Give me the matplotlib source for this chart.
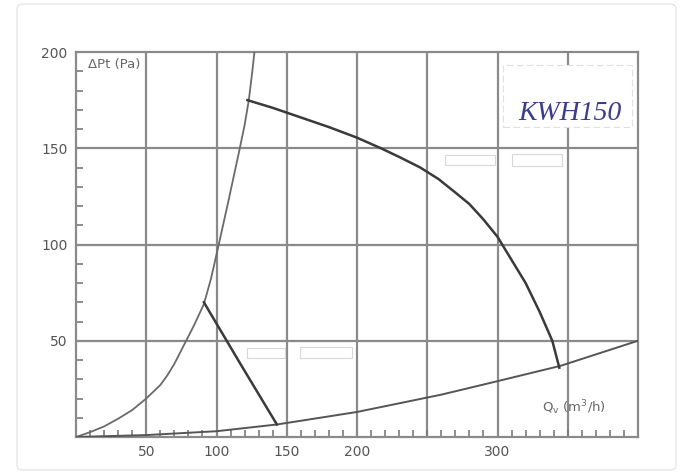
import matplotlib
matplotlib.use("Agg")
import matplotlib.pyplot as plt
from matplotlib.patches import Rectangle, FancyBboxPatch

# ---- data ----
fan_q = [122, 140, 160, 180, 200, 217, 230, 245, 258, 270, 280, 290, 300, 310, 320, 330, 339, 344]
fan_p = [175, 171, 166, 161, 155.5, 150, 145.5, 140, 134, 127, 121, 113, 104, 92, 80, 65, 50, 36]

low_q = [91, 117, 143]
low_p = [70, 38, 6.5]

sys_hi_q = [0, 10, 20, 30, 40, 50, 60, 65, 70, 77, 84, 91, 96, 101, 108, 116, 120, 123, 125.5, 127]
sys_hi_p = [0, 2.5, 5.5, 9.5, 14, 20, 27, 32, 38, 48, 58, 69, 82, 98, 121, 148, 162, 175, 190, 200]

sys_lo_q = [0, 50, 100, 143, 200, 260, 300, 345, 400]
sys_lo_p = [0, 1, 3, 6.5, 13, 22, 29, 37, 50]

x_ticks = [50, 100, 150, 200, 300]
x_ticklabels = ["50", "100", "150", "200", "300"]
y_ticks = [50, 100, 150, 200]
y_ticklabels = ["50", "100", "150", "200"]
x_grid = [50, 100, 150, 200, 250, 300, 350]
y_grid = [50, 100, 150]

W, H = 682, 474
fig = plt.figure(figsize=(W / 100, H / 100), dpi=100)
fig.patch.set_facecolor("white")

# outer light frame
fig.patches.append(FancyBboxPatch((17 / W, 4 / H), (676 - 17) / W, (470 - 4) / H,
                                  boxstyle="round,pad=0,rounding_size=0.01",
                                  transform=fig.transFigure, fill=False,
                                  edgecolor="#e6e6e6", linewidth=1.0))

ax = fig.add_axes([76 / W, (H - 437) / H, (638 - 76) / W, (437 - 52) / H])
ax.set_xlim(0, 400)
ax.set_ylim(0, 200)

gridc = "#8a8a8a"
for g in x_grid:
    ax.axvline(g, color=gridc, lw=1.6, zorder=1)
for g in y_grid:
    ax.axhline(g, color=gridc, lw=1.6, zorder=1)

for s in ax.spines.values():
    s.set_color(gridc)
    s.set_linewidth(1.6)

# blanked-out label boxes
for (x0, y0, x1, y1) in [(445, 155, 495, 165), (512, 154, 562, 166),
                         (247, 348, 285, 358), (300, 347, 352, 358)]:
    ax.add_patch(Rectangle((x0, H - y1), x1 - x0, y1 - y0, transform=None,
                           facecolor="white", edgecolor="#d8d8d8", lw=0.8, zorder=2))
ax.add_patch(Rectangle((503, H - 127), 129, 62, transform=None,
                       facecolor="white", edgecolor="#e0e0e0", lw=0.8,
                       linestyle=(0, (6, 3)), zorder=2))

ax.plot(sys_hi_q, sys_hi_p, color="#6a6a6a", lw=1.3, zorder=3)
ax.plot(sys_lo_q, sys_lo_p, color="#555555", lw=1.4, zorder=3)
ax.plot(fan_q, fan_p, color="#3a3a3a", lw=1.8, zorder=4, solid_joinstyle="round")
ax.plot(low_q, low_p, color="#3a3a3a", lw=1.8, zorder=4)

ax.set_xticks(x_ticks)
ax.set_xticklabels(x_ticklabels)
ax.set_yticks(y_ticks)
ax.set_yticklabels(y_ticklabels)
ax.set_xticks(range(10, 400, 10), minor=True)
ax.set_yticks(range(10, 200, 10), minor=True)
ax.tick_params(axis="both", which="major", length=0, labelsize=10,
               labelcolor="#555555", pad=6)
ax.tick_params(axis="both", which="minor", direction="in", length=5,
               width=1.2, color="#7a7a7a")

ax.text(0.022, 0.985, "ΔPt (Pa)", transform=ax.transAxes, ha="left", va="top",
        fontsize=9.5, color="#666666", zorder=5)
ax.text(0.83, 0.075, "Q$_\\mathrm{v}$ (m$^3$/h)", transform=ax.transAxes, ha="left",
        va="center", fontsize=9.5, color="#666666", zorder=5)
ax.text(570, H - 113, "KWH150", transform=None, ha="center", va="center",
        fontsize=20, color="#3c3c8e", style="italic", family="Liberation Serif",
        zorder=5)

fig.savefig("out.png", dpi=100, facecolor="white")
